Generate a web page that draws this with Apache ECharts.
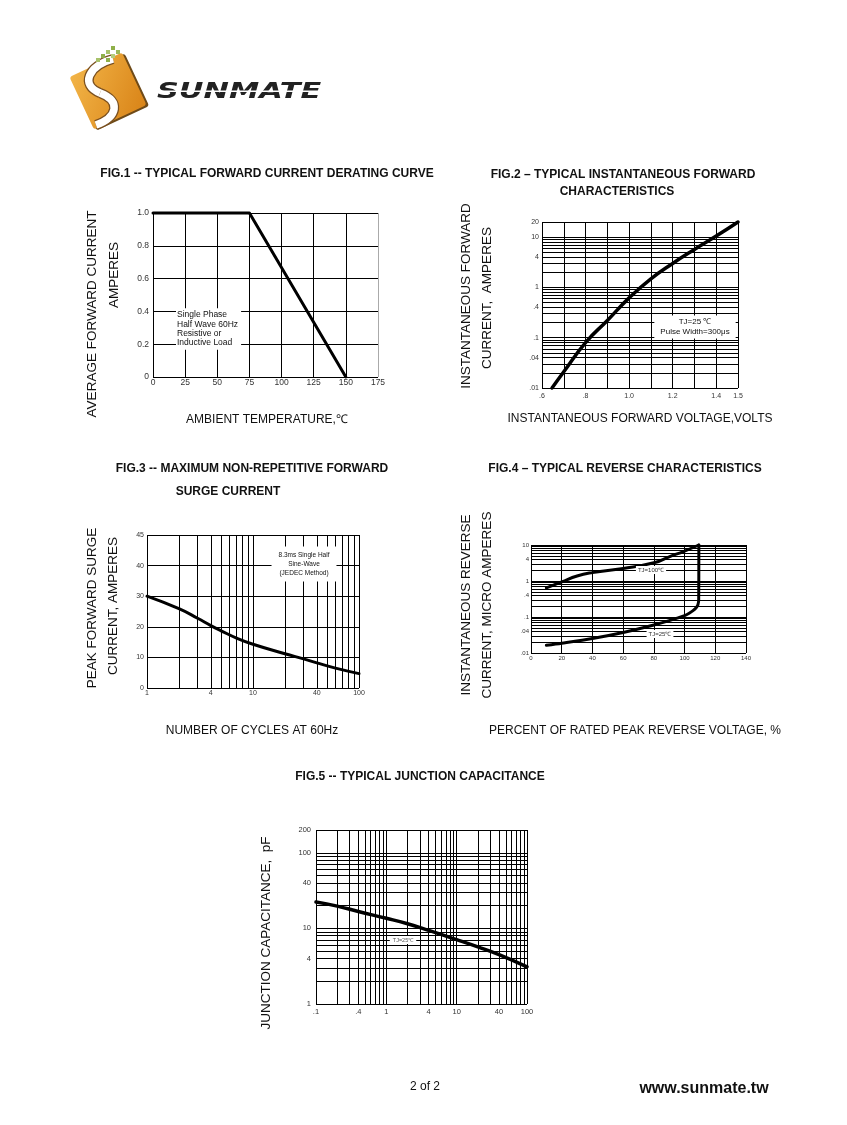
<!DOCTYPE html>
<html>
<head>
<meta charset="utf-8">
<script src="https://cdn.jsdelivr.net/npm/echarts@6/dist/echarts.min.js"></script>
<style>
html,body{margin:0;padding:0;background:#fff;}
#c{width:847px;height:1125px;}
</style>
</head>
<body>
<div id="c"></div>
<script>
// ---------------- DATA ----------------
// Fig.1 derating curve
const fig1Temp = [0, 75, 150];
const fig1Current = [1.0, 1.0, 0];
const fig1XTickValues = [0, 25, 50, 75, 100, 125, 150, 175];
const fig1XTickLabels = ['0', '25', '50', '75', '100', '125', '150', '175'];
const fig1YTickValues = [0, 0.2, 0.4, 0.6, 0.8, 1.0];
const fig1YTickLabels = ['0', '0.2', '0.4', '0.6', '0.8', '1.0'];

// Fig.2 forward characteristics
const fig2Voltage = [0.646, 0.7, 0.8, 0.9, 1.0, 1.1, 1.2, 1.3, 1.4, 1.5];
const fig2Current = [0.01, 0.021, 0.08, 0.22, 0.62, 1.48, 3.0, 5.7, 10.5, 20];
const fig2XTickValues = [0.6, 0.8, 1.0, 1.2, 1.4, 1.5];
const fig2XTickLabels = ['.6', '.8', '1.0', '1.2', '1.4', '1.5'];
const fig2YTickValues = [0.01, 0.04, 0.1, 0.4, 1, 4, 10, 20];
const fig2YTickLabels = ['.01', '.04', '.1', '.4', '1', '4', '10', '20'];

// Fig.3 surge current
const fig3Cycles = [1, 2, 3, 4, 5, 7, 10, 20, 30, 40, 60, 100];
const fig3Surge = [30, 25.9, 22.8, 20.4, 18.7, 16.3, 14.3, 11.2, 9.5, 8.2, 6.5, 4.7];
const fig3XTickValues = [1, 4, 10, 40, 100];
const fig3XTickLabels = ['1', '4', '10', '40', '100'];
const fig3YTickValues = [0, 10, 20, 30, 40, 50];
const fig3YTickLabels = ['0', '10', '20', '30', '40', '45'];

// Fig.4 reverse characteristics
const fig4Percent100 = [10, 20, 30, 40, 60, 80, 90, 100, 109.3];
const fig4Current100 = [0.64, 0.94, 1.38, 1.71, 2.22, 3.2, 4.7, 6.8, 10];
const fig4Percent25 = [10, 20, 40, 60, 80, 90, 100, 103, 105.5, 107.5, 108.7, 109.2, 109.3];
const fig4Current25 = [0.0164, 0.0187, 0.0252, 0.037, 0.06, 0.079, 0.109, 0.127, 0.15, 0.18, 0.22, 0.3, 10];
const fig4XTickValues = [0, 20, 40, 60, 80, 100, 120, 140];
const fig4XTickLabels = ['0', '20', '40', '60', '80', '100', '120', '140'];
const fig4YTickValues = [0.01, 0.04, 0.1, 0.4, 1, 4, 10];
const fig4YTickLabels = ['.01', '.04', '.1', '.4', '1', '4', '10'];

// Fig.5 junction capacitance
const fig5Voltage = [0.1, 0.2, 0.4, 1, 2, 4, 10, 20, 40, 100];
const fig5Cap = [22.3, 19.7, 16.7, 13.6, 11.5, 9.4, 7.1, 5.7, 4.5, 3.1];
const fig5XTickValues = [0.1, 0.4, 1, 4, 10, 40, 100];
const fig5XTickLabels = ['.1', '.4', '1', '4', '10', '40', '100'];
const fig5YTickValues = [1, 4, 10, 40, 100, 200];
const fig5YTickLabels = ['1', '4', '10', '40', '100', '200'];

// log-paper grid lines (1..9 per decade)
const logMultipliers = [1, 2, 3, 4, 5, 6, 7, 8, 9];
function logGridValues(decades, extras) {
  const out = [];
  decades.forEach(d => logMultipliers.forEach(m => out.push(+(d * m).toPrecision(6))));
  return out.concat(extras);
}
const fig2YGrid = logGridValues([0.01, 0.1, 1], [10, 20]);
const fig3XGrid = logGridValues([1, 10], [100]);
const fig4YGrid = logGridValues([0.01, 0.1, 1], [10]);
const fig5XGrid = logGridValues([0.1, 1, 10], [100]);
const fig5YGrid = logGridValues([1, 10], [100, 200]);

// ---------------- HELPERS ----------------
const FONT = '"Liberation Sans", Arial, Helvetica, sans-serif';
const LABEL_COLOR = '#333';

function findLabel(v, vals, labs) {
  for (let i = 0; i < vals.length; i++) {
    if (Math.abs(vals[i] - v) <= 1e-6 * Math.max(1e-9, Math.abs(vals[i])) + 1e-12) return labs[i];
  }
  return null;
}
function fmt(vals, labs) {
  return function (v) { const l = findLabel(v, vals, labs); return l === null ? '' : l; };
}
function zip(a, b) { return a.map((x, i) => [x, b[i]]); }

function gridItems(axisKey, values, tickVals, tickLabs, labelOpt) {
  return values.map(v => {
    const lab = findLabel(v, tickVals, tickLabs);
    const it = {};
    it[axisKey] = v;
    it.label = lab !== null
      ? Object.assign({ show: true, formatter: lab, position: 'start', color: LABEL_COLOR, fontFamily: FONT }, labelOpt)
      : { show: false };
    return it;
  });
}
function gridSeries(k, items) {
  return {
    type: 'line', xAxisIndex: k, yAxisIndex: k, data: [], z: 1, silent: true,
    markLine: {
      silent: true, symbol: ['none', 'none'], precision: 6, animation: false, z: 1,
      lineStyle: { color: '#000', width: 1, type: 'solid' },
      emphasis: { disabled: true },
      label: { show: false },
      data: items
    }
  };
}
function curve(k, xs, ys, width, smooth) {
  return {
    type: 'line', xAxisIndex: k, yAxisIndex: k, data: zip(xs, ys),
    symbol: 'none', showSymbol: false, smooth: smooth, clip: false, z: 5, silent: true,
    lineStyle: { color: '#000', width: width, cap: 'round', join: 'round' }
  };
}
const noLine = { show: false };
const split = { show: true, lineStyle: { color: '#000', width: 1 } };
function valAxis(k, min, max, interval, vals, labs, fontSize, margin) {
  return {
    gridIndex: k, type: 'value', min: min, max: max, interval: interval,
    axisLine: noLine, axisTick: noLine, splitLine: split,
    axisLabel: { formatter: fmt(vals, labs), fontSize: fontSize, color: LABEL_COLOR, fontFamily: FONT, margin: margin }
  };
}
function logAxis(k, min, max) {
  return {
    gridIndex: k, type: 'log', logBase: 10, min: min, max: max,
    axisLine: noLine, axisTick: noLine, splitLine: noLine, axisLabel: { show: false }
  };
}
function txt(x, y, text, o) {
  o = o || {};
  const style = {
    text: text, fill: o.color || '#111', fontSize: o.size || 12, fontFamily: o.family || FONT,
    fontWeight: o.weight || 'normal', fontStyle: o.style || 'normal',
    align: o.align || 'center', verticalAlign: 'middle',
    textAlign: o.align || 'center', textVerticalAlign: 'middle'
  };
  if (o.lineHeight) style.lineHeight = o.lineHeight;
  if (o.bg) { style.backgroundColor = o.bg; style.padding = o.padding || [1, 2]; }
  const el = { type: 'text', x: x, y: y, z: 100, silent: true, style: style };
  if (o.rotate) el.rotation = o.rotate;
  if (o.scaleX) el.scaleX = o.scaleX;
  return el;
}
function dot(x, y, c) {
  return { type: 'rect', z: 101, silent: true, shape: { x: x, y: y, width: 4, height: 4 }, style: { fill: c } };
}
function bez(x1, y1, c1x, c1y, c2x, c2y, x2, y2, color, w) {
  return { type: 'bezierCurve', z: 101, silent: true,
    shape: { x1: x1, y1: y1, cpx1: c1x, cpy1: c1y, cpx2: c2x, cpy2: c2y, x2: x2, y2: y2 },
    style: { fill: 'none', stroke: color, lineWidth: w, lineCap: 'butt' } };
}
const V = Math.PI / 2;

// ---------------- GRAPHICS (titles, notes, logo) ----------------
const graphics = [
  {
    type: 'group', x: 108, y: 91, rotation: 25 * Math.PI / 180, z: 100, silent: true,
    children: [
      { type: 'rect', x: 2, y: 2, shape: { x: -29, y: -29, width: 58, height: 58, r: 3 }, style: { fill: '#6e4a18' } },
      { type: 'rect', shape: { x: -29, y: -29, width: 58, height: 58, r: 3 },
        style: { fill: { type: 'linear', x: 0, y: 0, x2: 1, y2: 1, colorStops: [{ offset: 0, color: '#F2B447' }, { offset: 1, color: '#D98418' }] } } }
    ]
  },
  bez(113, 59, 88, 66, 80, 85, 100, 93, '#7a5020', 10),
  bez(100, 93, 121, 101, 118, 117, 96, 125, '#7a5020', 10),
  bez(113, 59, 88, 66, 80, 85, 100, 93, '#ffffff', 7.5),
  bez(100, 93, 121, 101, 118, 117, 96, 125, '#ffffff', 7.5),
  dot(111, 46, '#8fb04a'), dot(106, 50, '#a8c26a'), dot(116, 50, '#9bb85a'), dot(101, 54, '#8fb04a'),
  dot(111, 54, '#b5cc7c'), dot(96, 58, '#a8c26a'), dot(106, 58, '#8fb04a'),
  txt(157, 92, 'SUNMATE', { size: 22, weight: 900, style: 'italic', family: '"DejaVu Sans", sans-serif', color: '#222', align: 'left', scaleX: 1.38 }),
  { type: 'rect', z: 102, silent: true, shape: { x: 150, y: 90.5, width: 180, height: 1.6 }, style: { fill: '#ffffff' } },

  // Fig.1
  txt(267, 174, 'FIG.1 -- TYPICAL FORWARD CURRENT DERATING CURVE', { size: 12, weight: 'bold' }),
  txt(92, 314, 'AVERAGE FORWARD CURRENT', { size: 13.5, rotate: V }),
  txt(114, 275, 'AMPERES', { size: 13.5, rotate: V }),
  txt(267, 420, 'AMBIENT TEMPERATURE,℃', { size: 12 }),
  txt(176, 329, 'Single Phase\nHalf Wave 60Hz\nResistive or\nInductive Load', { size: 8.5, align: 'left', lineHeight: 9.4, bg: '#fff', padding: [2, 3, 2, 1] }),

  // Fig.2
  txt(623, 175, 'FIG.2 – TYPICAL INSTANTANEOUS FORWARD', { size: 12, weight: 'bold' }),
  txt(617, 192, 'CHARACTERISTICS', { size: 12, weight: 'bold' }),
  txt(466, 296, 'INSTANTANEOUS FORWARD', { size: 13.5, rotate: V }),
  txt(487, 298, 'CURRENT,  AMPERES', { size: 13.5, rotate: V }),
  txt(640, 419, 'INSTANTANEOUS FORWARD VOLTAGE,VOLTS', { size: 12 }),
  txt(695, 327, 'TJ=25 ℃\nPulse Width=300μs', { size: 8, lineHeight: 9.5, bg: '#fff', padding: [2, 6] }),

  // Fig.3
  txt(252, 469, 'FIG.3 -- MAXIMUM NON-REPETITIVE FORWARD', { size: 12, weight: 'bold' }),
  txt(228, 492, 'SURGE CURRENT', { size: 12, weight: 'bold' }),
  txt(92, 608, 'PEAK FORWARD SURGE', { size: 13.5, rotate: V }),
  txt(113, 606, 'CURRENT, AMPERES', { size: 13.5, rotate: V }),
  txt(252, 731, 'NUMBER OF CYCLES AT 60Hz', { size: 12 }),
  txt(304, 564, '8.3ms Single Half\nSine-Wave\n(JEDEC Method)', { size: 6.5, lineHeight: 9, bg: '#fff', padding: [4, 7] }),

  // Fig.4
  txt(625, 469, 'FIG.4 – TYPICAL REVERSE CHARACTERISTICS', { size: 12, weight: 'bold' }),
  txt(466, 605, 'INSTANTANEOUS REVERSE', { size: 13.5, rotate: V }),
  txt(487, 605, 'CURRENT, MICRO AMPERES', { size: 13.5, rotate: V }),
  txt(635, 731, 'PERCENT OF RATED PEAK REVERSE VOLTAGE, %', { size: 12 }),
  txt(651, 570, 'TJ=100℃', { size: 6, color: '#333', bg: '#fff', padding: [1, 2] }),
  txt(660, 634, 'TJ=25℃', { size: 6, color: '#333', bg: '#fff', padding: [1, 2] }),

  // Fig.5
  txt(420, 777, 'FIG.5 -- TYPICAL JUNCTION CAPACITANCE', { size: 12, weight: 'bold' }),
  txt(266, 933, 'JUNCTION CAPACITANCE,  pF', { size: 13.5, rotate: V }),
  txt(403, 940, 'TJ=25℃', { size: 5.5, color: '#555', bg: '#fff', padding: [1, 3] }),

  // footer
  txt(425, 1087, '2 of 2', { size: 12 }),
  txt(704, 1089, 'www.sunmate.tw', { size: 16, weight: 'bold', color: '#111' })
];

// ---------------- CHART ----------------
const chart = echarts.init(document.getElementById('c'), null, { renderer: 'canvas' });
const option = {
  animation: false,
  backgroundColor: '#ffffff',
  textStyle: { fontFamily: FONT },
  grid: [
    { left: 153, top: 213, width: 225, height: 164 },
    { left: 542, top: 222, width: 196, height: 166 },
    { left: 147, top: 535, width: 212, height: 153 },
    { left: 531, top: 545, width: 215, height: 108 },
    { left: 316, top: 830, width: 211, height: 174 }
  ],
  xAxis: [
    Object.assign(valAxis(0, 0, 175, 25, fig1XTickValues, fig1XTickLabels, 8.5, 1),
      { splitLine: { show: true, lineStyle: { color: ['#000', '#000', '#000', '#000', '#000', '#000', '#000', '#aaa'], width: 1 } } }),
    valAxis(1, 0.6, 1.5, 0.1, fig2XTickValues, fig2XTickLabels, 7, 5),
    logAxis(2, 1, 100),
    valAxis(3, 0, 140, 20, fig4XTickValues, fig4XTickLabels, 6, 2),
    logAxis(4, 0.1, 100)
  ],
  yAxis: [
    valAxis(0, 0, 1, 0.2, fig1YTickValues, fig1YTickLabels, 8.5, 4),
    logAxis(1, 0.01, 20),
    valAxis(2, 0, 50, 10, fig3YTickValues, fig3YTickLabels, 7, 3),
    logAxis(3, 0.01, 10),
    logAxis(4, 1, 200)
  ],
  graphic: { elements: graphics },
  series: [
    gridSeries(1, gridItems('yAxis', fig2YGrid, fig2YTickValues, fig2YTickLabels, { fontSize: 7, distance: 3 })),
    gridSeries(2, gridItems('xAxis', fig3XGrid, fig3XTickValues, fig3XTickLabels, { fontSize: 7, distance: 2 })),
    gridSeries(3, gridItems('yAxis', fig4YGrid, fig4YTickValues, fig4YTickLabels, { fontSize: 6, distance: 2 })),
    gridSeries(4, gridItems('xAxis', fig5XGrid, fig5XTickValues, fig5XTickLabels, { fontSize: 7.5, distance: 4 })
      .concat(gridItems('yAxis', fig5YGrid, fig5YTickValues, fig5YTickLabels, { fontSize: 7.5, distance: 5 }))),
    curve(0, fig1Temp, fig1Current, 3, false),
    curve(1, fig2Voltage, fig2Current, 3.5, true),
    curve(2, fig3Cycles, fig3Surge, 3, true),
    curve(3, fig4Percent100, fig4Current100, 3, true),
    curve(3, fig4Percent25, fig4Current25, 3, 0.3),
    curve(4, fig5Voltage, fig5Cap, 3.5, true)
  ]
};
chart.setOption(option);
</script>
</body>
</html>
